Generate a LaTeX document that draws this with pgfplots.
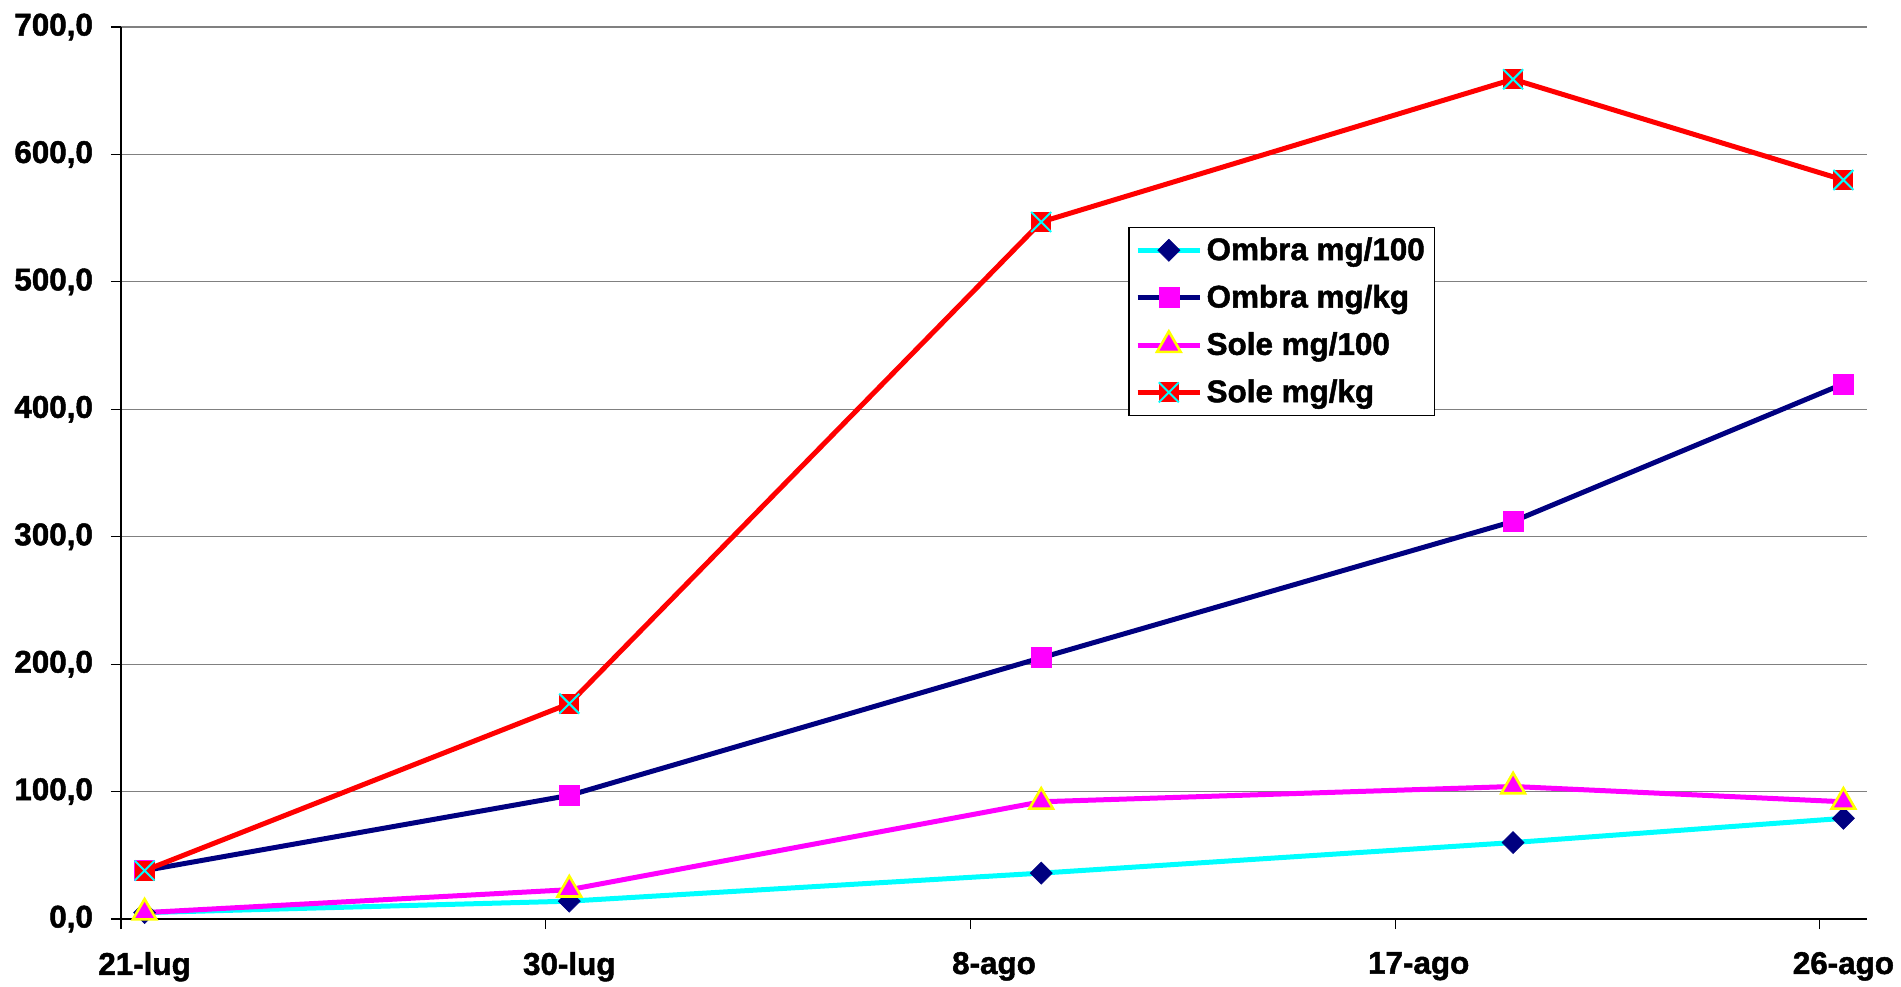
\documentclass[border=0pt]{standalone}
\usepackage{fontspec}
\setmainfont{Liberation Sans}[BoldFeatures={FakeBold=1.5}]
\usepackage{pgfplots}
\pgfplotsset{compat=1.18}
\definecolor{navyx}{RGB}{0,0,128}
\definecolor{cyanx}{RGB}{0,255,255}
\definecolor{magx}{RGB}{255,0,255}
\definecolor{redx}{RGB}{255,0,0}
\definecolor{yelx}{RGB}{255,255,0}
\definecolor{gridg}{RGB}{128,128,128}
\pgfdeclareplotmark{sqx}{%
 \pgfpathrectangle{\pgfqpoint{-\pgfplotmarksize}{-\pgfplotmarksize}}{\pgfqpoint{2\pgfplotmarksize}{2\pgfplotmarksize}}%
 \pgfusepathqfill
 \pgfpathmoveto{\pgfqpoint{-\pgfplotmarksize}{-\pgfplotmarksize}}\pgfpathlineto{\pgfqpoint{\pgfplotmarksize}{\pgfplotmarksize}}%
 \pgfpathmoveto{\pgfqpoint{-\pgfplotmarksize}{\pgfplotmarksize}}\pgfpathlineto{\pgfqpoint{\pgfplotmarksize}{-\pgfplotmarksize}}%
 \pgfusepathqstroke}
\begin{document}
\begin{tikzpicture}
\useasboundingbox (-60.5pt,-33.5pt) rectangle (890pt,459.5pt);
\begin{axis}[
  scale only axis, width=873pt, height=446pt,
  xmin=0, xmax=37, ymin=0, ymax=700,
  axis x line=bottom, axis y line=left,
  axis line style={-, black, line width=0.7pt},
  xtick={0,9,18,27,36},
  xticklabels={21-lug,30-lug,8-ago,17-ago,26-ago},
  ytick={0,100,...,700},
  tick align=outside, major tick length=5pt,
  tick style={black, line width=0.6pt},
  ymajorgrids, grid style={gridg, line width=0.6pt},
  /pgf/number format/.cd, fixed, fixed zerofill, precision=1, use comma, 1000 sep={}, assume math mode=true, /pgfplots/.cd,
  tick label style={font=\bfseries\fontsize{15.7}{18}\selectfont},
  xticklabel style={xshift=11.8pt, yshift=-8pt},
  yticklabel style={xshift=-5.5pt},
  clip=false,
  legend style={at={(0.577,0.776)}, anchor=north west, draw=black, line width=0.6pt,
    font=\bfseries\fontsize{15.7}{18}\selectfont, row sep=6.8pt, inner xsep=3pt, inner ysep=3pt},
  legend cell align=left,
  legend image code/.code={\draw[mark repeat=2,mark phase=2] plot coordinates {(0cm,0cm) (0.55cm,0cm) (1.1cm,0cm)};},
]
\addplot[cyanx, line width=2.5pt, mark=square*, mark size=3.9pt, mark options={rotate=45, fill=navyx, draw=navyx, line width=0.3pt}]
 coordinates {(0.5,5)(9.5,14)(19.5,36)(29.5,60)(36.5,79)};
\addlegendentry{Ombra mg/100}
\addplot[navyx, line width=2.5pt, mark=square*, mark size=5pt, mark options={fill=magx, draw=magx, line width=0.3pt}]
 coordinates {(0.5,38)(9.5,97)(19.5,205)(29.5,312)(36.5,420)};
\addlegendentry{Ombra mg/kg}
\addplot[magx, line width=2.5pt, mark=triangle*, mark size=6.8pt, mark options={fill=magx, draw=yelx, line width=1.3pt}]
 coordinates {(0.5,5)(9.5,23)(19.5,92)(29.5,104)(36.5,92)};
\addlegendentry{Sole mg/100}
\addplot[redx, line width=2.5pt, mark=sqx, mark size=5pt, mark options={fill=redx, draw=cyanx, line width=1pt}]
 coordinates {(0.5,38)(9.5,169)(19.5,547)(29.5,659)(36.5,580)};
\addlegendentry{Sole mg/kg}
\end{axis}
\end{tikzpicture}
\end{document}
